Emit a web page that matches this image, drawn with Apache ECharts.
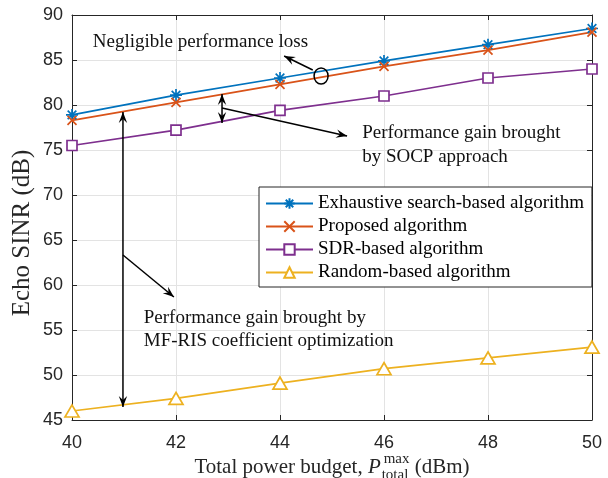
<!DOCTYPE html>
<html>
<head>
<meta charset="utf-8">
<script src="https://cdn.jsdelivr.net/npm/echarts@6/dist/echarts.min.js"></script>
<style>
  html, body { margin: 0; background: #fff; }
  #chart { width: 608px; height: 478px; }
</style>
</head>
<body>
<div id="chart"></div>
<script>
// values
const powerBudget = [40, 42, 44, 46, 48, 50]
const exhaustiveSinr = [78.9, 81.1, 83.0, 84.9, 86.7, 88.5]
const proposedSinr = [78.3, 80.3, 82.3, 84.3, 86.1, 88.1]
const sdrSinr = [75.5, 77.2, 79.4, 81.0, 83.0, 84.0]
const randomSinr = [46.0, 47.4, 49.1, 50.7, 51.9, 53.1]
const seriesNames = ['Exhaustive search-based algorithm', 'Proposed algorithm', 'SDR-based algorithm', 'Random-based algorithm']
const xTicks = { min: 40, max: 50, step: 2 }
const yTicks = { min: 45, max: 90, step: 5 }

const SERIF = '"Liberation Serif", "Times New Roman", serif'
const SANS = '"Liberation Sans", Arial, sans-serif'
const DARK = '#262626'
const colors = ['#0072BD', '#D95319', '#7E2F8E', '#EDB120']

const starPath = 'path://M0,-1L0,1M-1,0L1,0M-0.72,-0.72L0.72,0.72M-0.72,0.72L0.72,-0.72'
const crossPath = 'path://M-1,-1L1,1M-1,1L1,-1'

function pairs(arr) {
	return powerBudget.map((x, i) => [x, arr[i]])
}

function makeSeries(name, values, color, symbol, size, hollow) {
	return {
		name: name,
		type: 'line',
		data: pairs(values),
		symbol: symbol,
		symbolSize: size,
		showAllSymbol: true,
		lineStyle: { color: color, width: 1.7 },
		itemStyle: {
			color: hollow ? '#ffffff' : color,
			borderColor: color,
			borderWidth: 1.7
		},
		emphasis: { disabled: true },
		animation: false
	}
}

const chart = echarts.init(document.getElementById('chart'))

const option = {
	backgroundColor: '#ffffff',
	animation: false,
	grid: { left: 72, right: 16, top: 15, bottom: 58 },
	legend: {
		orient: 'vertical',
		left: 259,
		top: 187,
		padding: [7, 8, 5, 6],
		itemGap: 4,
		itemWidth: 47,
		itemHeight: 13,
		backgroundColor: '#ffffff',
		borderColor: DARK,
		borderWidth: 1,
		textStyle: { fontFamily: SERIF, fontSize: 19, color: '#000', lineHeight: 19 },
		selectedMode: false,
		data: seriesNames
	},
	xAxis: [{
		type: 'value',
		min: xTicks.min, max: xTicks.max, interval: xTicks.step,
		axisLine: { lineStyle: { color: DARK, width: 1 } },
		axisTick: { inside: true, length: 5, lineStyle: { color: DARK } },
		axisLabel: { fontFamily: SANS, fontSize: 18, color: DARK, margin: 14 },
		splitLine: { show: true, lineStyle: { color: '#e3e3e3', width: 1 } }
	}, {
		type: 'value', position: 'top',
		min: xTicks.min, max: xTicks.max, interval: xTicks.step,
		axisLine: { show: true, lineStyle: { color: DARK, width: 1 } },
		axisTick: { inside: true, length: 5, lineStyle: { color: DARK } },
		axisLabel: { show: false },
		splitLine: { show: false }
	}],
	yAxis: [{
		type: 'value',
		min: yTicks.min, max: yTicks.max, interval: yTicks.step,
		axisLine: { show: true, lineStyle: { color: DARK, width: 1 } },
		axisTick: { show: true, inside: true, length: 5, lineStyle: { color: DARK } },
		axisLabel: { fontFamily: SANS, fontSize: 18, color: DARK, margin: 9 },
		splitLine: { show: true, lineStyle: { color: '#e3e3e3', width: 1 } }
	}, {
		type: 'value', position: 'right',
		min: yTicks.min, max: yTicks.max, interval: yTicks.step,
		axisLine: { show: true, lineStyle: { color: DARK, width: 1 } },
		axisTick: { show: true, inside: true, length: 5, lineStyle: { color: DARK } },
		axisLabel: { show: false },
		splitLine: { show: false }
	}],
	series: [
		makeSeries(seriesNames[0], exhaustiveSinr, colors[0], starPath, 12, false),
		makeSeries(seriesNames[1], proposedSinr, colors[1], crossPath, 9, false),
		makeSeries(seriesNames[2], sdrSinr, colors[2], 'rect', 10, true),
		makeSeries(seriesNames[3], randomSinr, colors[3], 'triangle', [14, 12], true)
	]
}
chart.setOption(option)

// ---- annotations (anchored in data coordinates) ----
function px(x, y) {
	return chart.convertToPixel({ gridIndex: 0 }, [x, y])
}

function arrowHead(tip, from) {
	const dx = tip[0] - from[0], dy = tip[1] - from[1]
	const len = Math.sqrt(dx * dx + dy * dy)
	const ux = dx / len, uy = dy / len
	const L = 11, W = 4.2, notch = 7
	const bx = tip[0] - ux * L, by = tip[1] - uy * L
	const nx = tip[0] - ux * notch, ny = tip[1] - uy * notch
	return {
		type: 'polygon',
		shape: { points: [tip, [bx - uy * W, by + ux * W], [nx, ny], [bx + uy * W, by - ux * W]] },
		style: { fill: '#000' },
		z: 20
	}
}

function arrow(from, tip, doubleHead) {
	const out = [{
		type: 'line',
		shape: { x1: from[0], y1: from[1], x2: tip[0], y2: tip[1] },
		style: { stroke: '#000', lineWidth: 1.5 },
		z: 20
	}, arrowHead(tip, from)]
	if (doubleHead) out.push(arrowHead(from, tip))
	return out
}

function label(text, pos) {
	return {
		type: 'text', x: pos[0], y: pos[1], z: 20,
		style: { text: text, fontFamily: SERIF, fontSize: 19, fill: '#111', align: 'left', verticalAlign: 'middle' }
	}
}

const ellipseC = px(44.79, 83.22)
const graphics = []
graphics.push(label('Negligible performance loss', px(40.40, 87.0)))
graphics.push({
	type: 'ellipse', z: 20,
	shape: { cx: ellipseC[0], cy: ellipseC[1], rx: 7, ry: 8 },
	style: { stroke: '#000', fill: null, lineWidth: 1.5 }
})
graphics.push(...arrow(px(44.63, 83.89), px(44.08, 85.44), false))

graphics.push(...arrow(px(42.885, 81.22), px(42.885, 78.0), true))
graphics.push(...arrow(px(42.885, 79.67), px(45.29, 76.56), false))
graphics.push(label('Performance gain brought', px(45.58, 76.89)))
graphics.push(label('by SOCP approach', px(45.58, 74.22)))

graphics.push(...arrow(px(40.98, 79.22), px(40.98, 46.44), true))
graphics.push(...arrow(px(40.98, 63.33), px(41.96, 58.67), false))
graphics.push(label('Performance gain brought by', px(41.38, 56.33)))
graphics.push(label('MF-RIS coefficient optimization', px(41.38, 53.78)))

// y axis title
graphics.push({
	type: 'text', x: 22, y: 233, rotation: Math.PI / 2, z: 20,
	style: { text: 'Echo SINR (dB)', fontFamily: SERIF, fontSize: 25, fill: DARK, align: 'center', verticalAlign: 'middle' }
})

// x axis title with stacked super/subscript, centred under the plot
const measure = document.createElement('canvas').getContext('2d')
function textWidth(t, font) {
	measure.font = font
	return measure.measureText(t).width
}
const mainSize = 21, scriptSize = 15
const mainFont = mainSize + 'px ' + SERIF
const italicFont = 'italic ' + mainSize + 'px ' + SERIF
const scriptFont = scriptSize + 'px ' + SERIF
const head = 'Total power budget, ', tail = ' (dBm)'
const wHead = textWidth(head, mainFont)
const wP = textWidth('P', italicFont) + 1
const wScript = Math.max(textWidth('max', scriptFont) + 2, textWidth('total', scriptFont))
const wTail = textWidth(tail, mainFont)
const plotLeft = px(40, 45)[0], plotRight = px(50, 45)[0]
let cx = (plotLeft + plotRight) / 2 - (wHead + wP + wScript + wTail) / 2
const titleY = 467
function piece(t, x, y, size, style) {
	return {
		type: 'text', x: x, y: y, z: 20,
		style: { text: t, fontFamily: SERIF, fontSize: size, fontStyle: style || 'normal', fill: DARK, align: 'left', verticalAlign: 'middle' }
	}
}
graphics.push(piece(head, cx, titleY, mainSize))
cx += wHead
graphics.push(piece('P', cx, titleY, mainSize, 'italic'))
cx += wP
graphics.push(piece('max', cx + 2, titleY - 8, scriptSize))
graphics.push(piece('total', cx, titleY + 8, scriptSize))
cx += wScript
graphics.push(piece(tail, cx, titleY, mainSize))

chart.setOption({ graphic: graphics })
</script>
</body>
</html>
